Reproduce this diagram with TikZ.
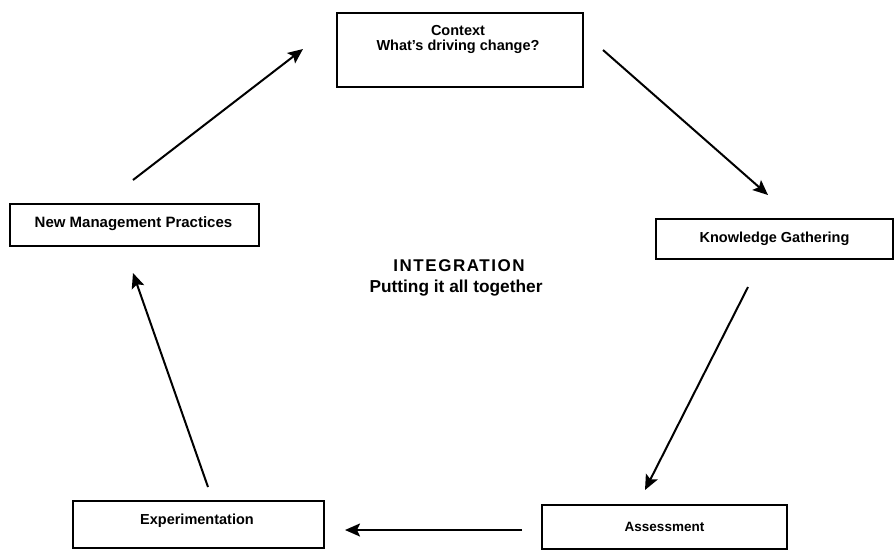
\documentclass[tikz,border=0pt]{standalone}
\usepackage{fontspec}
\setmainfont{Liberation Sans}
\usetikzlibrary{arrows.meta}
\begin{document}
\begin{tikzpicture}[x=1pt,y=-1pt,
  box/.style={draw, line width=1.7pt, inner sep=0pt},
  boxtext/.style={font=\fontsize{14.5}{15}\selectfont\bfseries, align=center, inner sep=0pt},
  flow/.style={line width=2pt, -{Stealth[length=15pt,width=13pt,inset=3pt]}}]
\useasboundingbox (0,0) rectangle (895,550);
% boxes
\node[box, minimum width=246pt, minimum height=74pt] (ctx) at (460,50) {};
\node[boxtext] (ctxt) at (458,39) {Context\\What's driving change?};
\node[box, minimum width=237pt, minimum height=40pt] (kg) at (774.5,239) {};
\node[boxtext] (kgt) at (774.5,239) {Knowledge Gathering};
\node[box, minimum width=245pt, minimum height=44pt] (as) at (664.5,527) {};
\node[boxtext, font=\fontsize{13.5}{15}\selectfont\bfseries] (ast) at (664.5,527) {Assessment};
\node[box, minimum width=251pt, minimum height=47pt] (ex) at (198.5,524.5) {};
\node[boxtext] (ext) at (197,521) {Experimentation};
\node[box, minimum width=249pt, minimum height=42pt] (nm) at (134.5,225) {};
\node[boxtext, font=\fontsize{15}{15}\selectfont\bfseries] (nmt) at (133.5,224) {New Management Practices};
% centre
\node[inner sep=0pt, font=\fontsize{17}{20}\selectfont\bfseries\addfontfeatures{LetterSpace=9}] (int) at (459,266) {INTEGRATION};
\node[inner sep=0pt, font=\fontsize{17.3}{20}\selectfont\bfseries] (put) at (456,288) {Putting it all together};
% connector end points
\coordinate (a1s) at (133,180); \coordinate (a1e) at (303,49);
\coordinate (a2s) at (603,50);  \coordinate (a2e) at (768,195);
\coordinate (a3s) at (748,287); \coordinate (a3e) at (645,490);
\coordinate (a4s) at (522,530); \coordinate (a4e) at (345,530);
\coordinate (a5s) at (208,487); \coordinate (a5e) at (133,273);
\draw[flow] (a1s) -- (a1e);
\draw[flow] (a2s) -- (a2e);
\draw[flow] (a3s) -- (a3e);
\draw[flow] (a4s) -- (a4e);
\draw[flow] (a5s) -- (a5e);
\end{tikzpicture}
\end{document}
